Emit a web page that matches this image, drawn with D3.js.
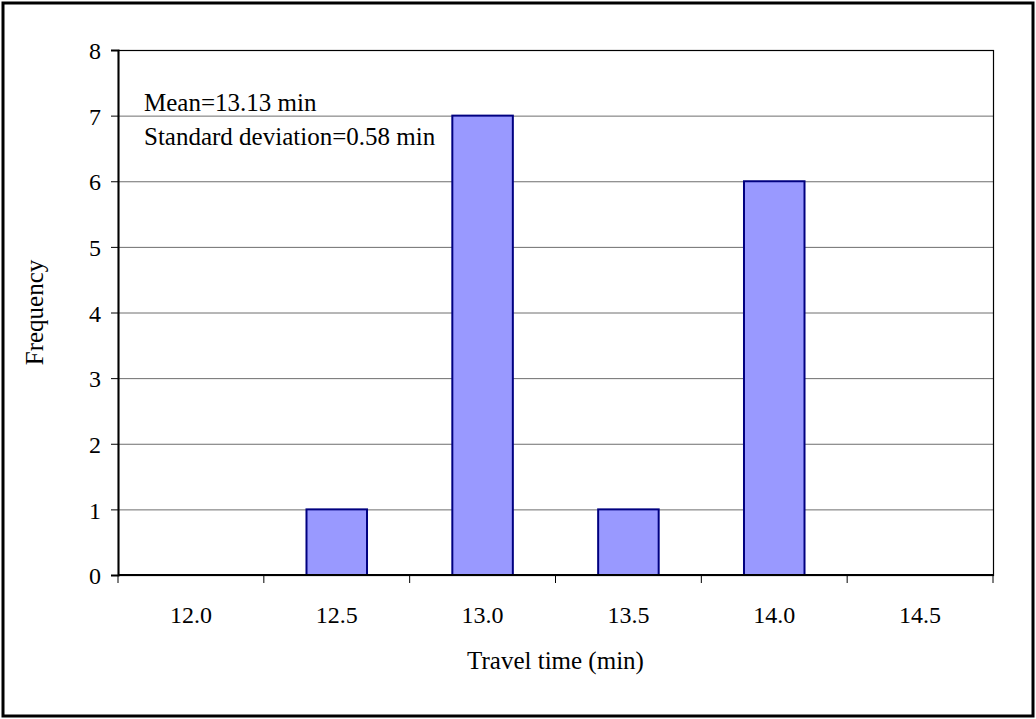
<!DOCTYPE html>
<html>
<head>
<meta charset="utf-8">
<script src="https://cdn.jsdelivr.net/npm/d3@7"></script>
<style>
  html, body { margin: 0; padding: 0; background: #fff; }
  svg { display: block; }
  text { font-family: "Liberation Serif", "Times New Roman", serif; fill: #000; }
</style>
</head>
<body>
<svg id="chart" width="1036" height="719"></svg>
<script>
// Histogram of travel times
const categories = ["12.0", "12.5", "13.0", "13.5", "14.0", "14.5"];
const frequencies = [0, 1, 7, 1, 6, 0];
const yTicks = [0, 1, 2, 3, 4, 5, 6, 7, 8];
const notes = ["Mean=13.13 min", "Standard deviation=0.58 min"];

const W = 1036, H = 719;
const plot = { left: 118, right: 993, top: 50, bottom: 575 };

const svg = d3.select("#chart");

// outer frame
svg.append("rect")
  .attr("x", 3).attr("y", 3)
  .attr("width", W - 6).attr("height", H - 6)
  .attr("fill", "#fff").attr("stroke", "#000").attr("stroke-width", 3);

const x = d3.scaleBand().domain(categories)
  .range([plot.left, plot.right]).paddingInner(0).paddingOuter(0);
const y = d3.scaleLinear().domain([0, 8]).range([plot.bottom, plot.top]);

// horizontal gridlines
svg.append("g").selectAll("line")
  .data(yTicks.filter(d => d > 0 && d < 8))
  .join("line")
  .attr("x1", plot.left).attr("x2", plot.right)
  .attr("y1", d => y(d) + 0.5).attr("y2", d => y(d) + 0.5)
  .attr("stroke", "#6e6e6e").attr("stroke-width", 1);

// plot area border
svg.append("rect")
  .attr("x", plot.left + 0.5).attr("y", plot.top + 0.5)
  .attr("width", plot.right - plot.left).attr("height", plot.bottom - plot.top)
  .attr("fill", "none").attr("stroke", "#000").attr("stroke-width", 1.2);

// bars
const barW = x.bandwidth() * 0.415;
svg.append("g").selectAll("rect")
  .data(categories.map((c, i) => ({ c, v: frequencies[i] })).filter(d => d.v > 0))
  .join("rect")
  .attr("x", d => x(d.c) + (x.bandwidth() - barW) / 2)
  .attr("y", d => y(d.v))
  .attr("width", barW)
  .attr("height", d => y(0) - y(d.v))
  .attr("fill", "#9999ff")
  .attr("stroke", "#000080")
  .attr("stroke-width", 2);

// y axis
const yAxis = d3.axisLeft(y).tickValues(yTicks).tickSize(7).tickPadding(10).tickFormat(d3.format("d"));
const gy = svg.append("g").attr("transform", `translate(${plot.left},0)`).call(yAxis);
gy.select(".domain").attr("stroke", "#000").attr("stroke-width", 2);
gy.selectAll(".tick line").attr("stroke", "#000");
gy.selectAll(".tick text")
  .attr("dy", "0.36em")
  .style("font-size", "24px").style("font-family", "Liberation Serif");

// x axis: ticks at band boundaries, labels at band centres
const gx = svg.append("g").attr("transform", `translate(0,${plot.bottom})`);
gx.append("line")
  .attr("x1", plot.left).attr("x2", plot.right)
  .attr("y1", 0).attr("y2", 0)
  .attr("stroke", "#000").attr("stroke-width", 2);
const boundaries = categories.map(c => x(c)).concat([plot.right]);
gx.selectAll("line.tk").data(boundaries).join("line")
  .attr("class", "tk")
  .attr("x1", d => d).attr("x2", d => d)
  .attr("y1", 0).attr("y2", 8)
  .attr("stroke", "#000").attr("stroke-width", 1);
gx.selectAll("text").data(categories).join("text")
  .attr("x", d => x(d) + x.bandwidth() / 2)
  .attr("y", 48)
  .attr("text-anchor", "middle")
  .style("font-size", "24px")
  .text(d => d);

// annotations
svg.append("g").selectAll("text").data(notes).join("text")
  .attr("x", 144)
  .attr("y", (d, i) => 111 + i * 34)
  .style("font-size", "25px")
  .text(d => d);

// axis titles
svg.append("text")
  .attr("x", (plot.left + plot.right) / 2)
  .attr("y", 669)
  .attr("text-anchor", "middle")
  .style("font-size", "25px")
  .text("Travel time (min)");

svg.append("text")
  .attr("transform", `translate(43,${(plot.top + plot.bottom) / 2}) rotate(-90)`)
  .attr("text-anchor", "middle")
  .style("font-size", "25px")
  .text("Frequency");
</script>
</body>
</html>
